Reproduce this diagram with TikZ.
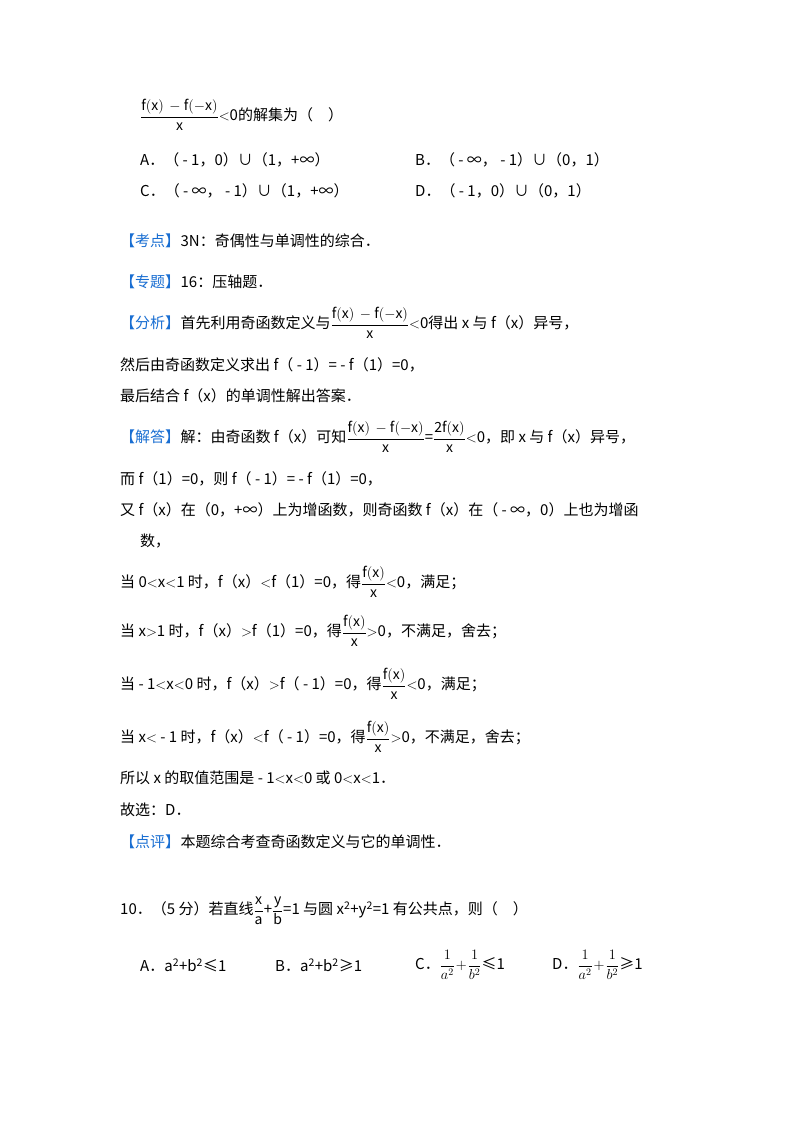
\documentclass[tikz,border=0pt]{standalone}
\usepackage{fontspec}
\setmainfont{Noto Sans CJK SC}
\definecolor{kblue}{RGB}{25,110,210}
\begin{document}
\begin{tikzpicture}[x=1pt,y=-1pt,
  t/.style={anchor=west,inner sep=0pt,font=\fontsize{15}{18}\selectfont},
  kw/.style={t,text=kblue}]
\useasboundingbox[fill=white] (0,0) rectangle (800,1132);
\newcommand{\fr}[2]{{\fontsize{14}{16}\selectfont$\displaystyle\frac{\mathrm{#1}}{\mathrm{#2}}$}}
\node[t] (l1) at (140,115) {\fr{f(x)\,-f(-x)}{x}$<$0的解集为（\quad ）};
\node[t] (a) at (140,160) {A．（ - 1，0）∪（1，+∞）};
\node[t] (b) at (415,160) {B．（ - ∞， - 1）∪（0，1）};
\node[t] (c) at (140,191) {C．（ - ∞， - 1）∪（1，+∞）};
\node[t] (d) at (415,191) {D．（ - 1，0）∪（0，1）};
\node[kw] (k1) at (120,241) {【考点】};
\node[t] at (k1.east) [anchor=west] {3N：奇偶性与单调性的综合．};
\node[kw] (k2) at (120,282) {【专题】};
\node[t] at (k2.east) [anchor=west] {16：压轴题．};
\node[kw] (k3) at (120,323) {【分析】};
\node[t] at (k3.east) [anchor=west] {首先利用奇函数定义与\fr{f(x)\,-f(-x)}{x}$<$0得出 x 与 f（x）异号，};
\node[t] (m1) at (120,365) {然后由奇函数定义求出 f（ - 1）= - f（1）=0，};
\node[t] (m2) at (120,396) {最后结合 f（x）的单调性解出答案．};
\node[kw] (k4) at (120,437) {【解答】};
\node[t] at (k4.east) [anchor=west] {解：由奇函数 f（x）可知\fr{f(x)\,-f(-x)}{x}=\fr{2f(x)}{x}$<$0，即 x 与 f（x）异号，};
\node[t] (s1) at (120,479) {而 f（1）=0，则 f（ - 1）= - f（1）=0，};
\node[t] (s2) at (120,510) {又 f（x）在（0，+∞）上为增函数，则奇函数 f（x）在（ - ∞，0）上也为增函};
\node[t] (s3) at (140,541) {数，};
\node[t] (s4) at (120,582) {当 0$<$x$<$1 时，f（x）$<$f（1）=0，得\fr{f(x)}{x}$<$0，满足；};
\node[t] (s5) at (120,631) {当 x$>$1 时，f（x）$>$f（1）=0，得\fr{f(x)}{x}$>$0，不满足，舍去；};
\node[t] (s6) at (120,684) {当 - 1$<$x$<$0 时，f（x）$>$f（ - 1）=0，得\fr{f(x)}{x}$<$0，满足；};
\node[t] (s7) at (120,737) {当 x$<$ - 1 时，f（x）$<$f（ - 1）=0，得\fr{f(x)}{x}$>$0，不满足，舍去；};
\node[t] (s8) at (120,778) {所以 x 的取值范围是 - 1$<$x$<$0 或 0$<$x$<$1．};
\node[t] (s9) at (120,810) {故选：D．};
\node[kw] (k5) at (120,842) {【点评】};
\node[t] at (k5.east) [anchor=west] {本题综合考查奇函数定义与它的单调性．};
\node[t] (q) at (120,911) {10．（5 分）若直线\fr{x}{a}+\fr{y}{b}=1 与圆 x\textsuperscript{2}+y\textsuperscript{2}=1 有公共点，则（\quad ）};
\node[t] (qa) at (140,965) {A．a\textsuperscript{2}+b\textsuperscript{2}≤1};
\node[t] (qb) at (275,965) {B．a\textsuperscript{2}+b\textsuperscript{2}≥1};
\node[t] (qc) at (415,965) {C．{\fontsize{14}{16}\selectfont$\displaystyle\frac{1}{a^2}\!+\!\frac{1}{b^2}$}≤1};
\node[t] (qd) at (552,965) {D．{\fontsize{14}{16}\selectfont$\displaystyle\frac{1}{a^2}\!+\!\frac{1}{b^2}$}≥1};
\end{tikzpicture}
\end{document}
